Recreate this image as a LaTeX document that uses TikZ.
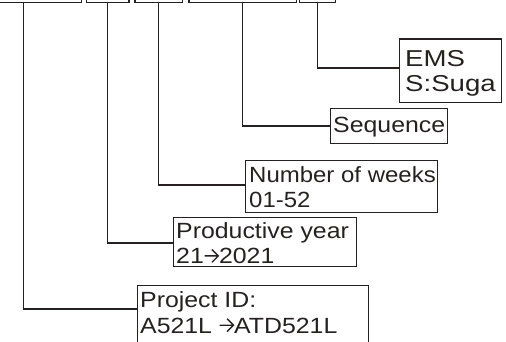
\documentclass[tikz,border=0pt]{standalone}
\usepackage{fontspec}
\newfontfamily\lab[FakeStretch=1.13]{Liberation Sans}
\newfontfamily\labn[FakeStretch=1.09]{Liberation Sans}
\newfontfamily\labw[FakeStretch=1.2]{Liberation Sans}
\definecolor{ink}{RGB}{38,33,33}
\newcommand{\rar}{\tikz[baseline=0pt,x=1pt,y=1pt]{\draw[ink,line width=1.4pt,line join=miter] (0.6,7.8)--(14,7.8) (8,14.2)--(14.4,7.8)--(8,1.4);}}
\begin{document}
\begin{tikzpicture}[x=1pt,y=-1pt,
  box/.style={draw=ink,line width=1.3pt,inner sep=0pt,anchor=north west},
  lbl/.style={text=ink,inner sep=0pt,anchor=base west,align=left,
              font=\lab\fontsize{22}{25.5}\selectfont},
  wire/.style={draw=ink,line width=1.3pt}]
\useasboundingbox (0,0) rectangle (506,342);
\clip (0,0) rectangle (506,342);
% top boxes (cut off by the top edge)
\node[box,minimum width=116pt,minimum height=21.7pt] (b1) at (-35,-20) {};
\node[box,minimum width=42.3pt,minimum height=21.7pt] (b2) at (86,-20) {};
\node[box,minimum width=47.4pt,minimum height=21.7pt] (b3) at (134.3,-20) {};
\node[box,minimum width=107.4pt,minimum height=21.7pt] (b4) at (188.3,-20) {};
\node[box,minimum width=36pt,minimum height=21.7pt] (b5) at (299,-20) {};
% description boxes
\node[box,minimum width=102pt,minimum height=63.7pt] (ems) at (399,38.3) {};
\node[box,minimum width=117pt,minimum height=35pt] (seq) at (330,108) {};
\node[box,minimum width=192pt,minimum height=52pt] (wk) at (245,160) {};
\node[box,minimum width=183pt,minimum height=49pt] (yr) at (173,217) {};
\node[box,minimum width=231.5pt,minimum height=80pt] (pid) at (136.5,285) {};
% texts (anchor = baseline of the last line)
\node[lbl,font=\labw\fontsize{23}{25}\selectfont] (tems) at (405,91.7) {EMS\\S:Suga};
\node[lbl] (tseq) at (333,133) {Sequence};
\node[lbl,font=\labn\fontsize{22}{25.4}\selectfont] (twk) at (249,207.7) {Number of weeks\\01-52};
\node[lbl] (tyr) at (176,263.7) {Productive year\\21\rar2021};
\node[lbl] (tpid) at (140,333) {Project ID:\\A521L \rar ATD521L};
% connectors
\draw[wire] (b5.south) |- ([yshift=-29.7pt]ems.north west);
\draw[wire] (b4.south) |- ([yshift=-18pt]seq.north west);
\draw[wire] (b3.south) |- ([yshift=-25pt]wk.north west);
\draw[wire] (b2.south) |- ([yshift=-26pt]yr.north west);
\draw[wire] (b1.south) |- ([yshift=-24pt]pid.north west);
\end{tikzpicture}
\end{document}
